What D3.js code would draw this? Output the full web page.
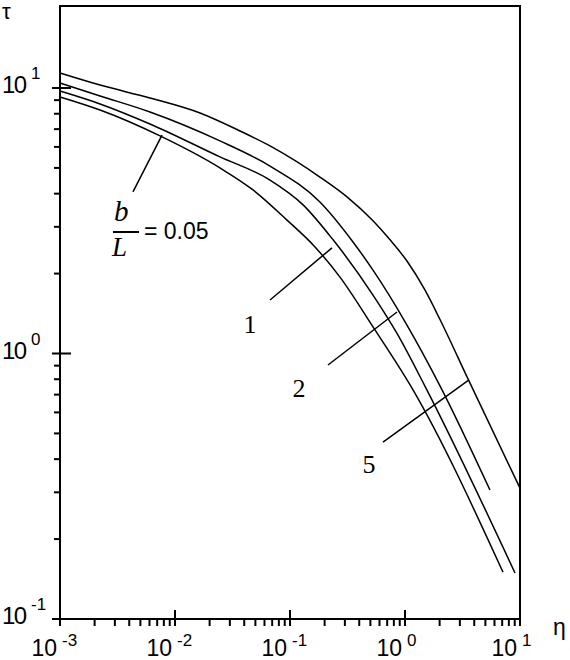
<!DOCTYPE html>
<html>
<head>
<meta charset="utf-8">
<script src="https://cdn.jsdelivr.net/npm/d3@7"></script>
<style>
    body { margin: 0; background: #fff; }
    text { fill: #000; }
</style>
</head>
<body>
<svg id="chart" width="570" height="660"></svg>
<script>
// data (eta, tau)
const eta_005 = [0.001, 0.00223, 0.00741, 0.0246, 0.0477, 0.0942, 0.165, 0.272, 0.527, 1.15, 7.12];
const tau_005 = [9.25, 8.26, 6.60, 5.00, 4.13, 3.18, 2.52, 1.94, 1.26, 0.741, 0.150];

const eta_1 = [0.001, 0.00223, 0.00606, 0.0246, 0.067, 0.13, 0.237, 0.527, 0.852, 1.49, 9.05];
const tau_1 = [9.74, 8.71, 7.32, 5.50, 4.50, 3.63, 2.68, 1.66, 1.19, 0.754, 0.149];

const eta_2 = [0.001, 0.00223, 0.00606, 0.0246, 0.067, 0.182, 0.353, 0.527, 1.04, 2.02, 5.48];
const tau_2 = [10.44, 9.33, 8.12, 6.32, 5.08, 3.72, 2.63, 2.06, 1.28, 0.754, 0.306];

const eta_5 = [0.001, 0.00223, 0.00606, 0.0165, 0.0367, 0.067, 0.182, 0.313, 0.527, 0.741, 1.04, 1.49, 2.02, 3.53, 10];
const tau_5 = [11.39, 10.26, 9.17, 8.05, 6.89, 6.05, 4.62, 3.89, 3.16, 2.68, 2.23, 1.735, 1.34, 0.802, 0.311];

const xMajor = [1e-3, 1e-2, 1e-1, 1, 10];
const xExp = ["-3", "-2", "-1", "0", "1"];
const yMajor = [0.1, 1, 10];
const yExp = ["-1", "0", "1"];

const curveNames = ["0.05", "1", "2", "5"];

// leader lines: [eta0, tau0, eta1, tau1]
const leaders = [
    [0.00431, 4.06, 0.00771, 6.65],
    [0.067, 1.59, 0.2318, 2.50],
    [0.214, 0.905, 0.852, 1.433],
    [0.644, 0.464, 3.60, 0.795]
];
// label anchor points (eta, tau) for "1", "2", "5"
const labelPos = [[0.0449, 1.195], [0.1197, 0.686], [0.486, 0.355]];

const svg = d3.select("#chart");
const x0 = 60, x1 = 520, y0 = 619, y1 = 6;

const x = d3.scaleLog().domain([1e-3, 10]).range([x0, x1]);
const y = d3.scaleLog().domain([0.1, Math.pow(10, 1 + 82 / 265.5)]).range([y0, y1]);

// frame
svg.append("rect")
    .attr("x", x0).attr("y", y1)
    .attr("width", x1 - x0).attr("height", y0 - y1)
    .attr("fill", "none").attr("stroke", "#000").attr("stroke-width", 2);

// minor ticks
let xMinor = [];
for (let d = -3; d < 1; d++) {
    for (let k = 2; k <= 9; k++) xMinor.push(k * Math.pow(10, d));
}
let yMinor = [];
for (let d = -1; d < 1; d++) {
    for (let k = 2; k <= 9; k++) yMinor.push(k * Math.pow(10, d));
}

svg.append("g").selectAll("line")
    .data(xMinor).enter().append("line")
    .attr("x1", d => x(d)).attr("x2", d => x(d))
    .attr("y1", y0).attr("y2", y0 + 7)
    .attr("stroke", "#000").attr("stroke-width", 2);

svg.append("g").selectAll("line")
    .data(xMajor).enter().append("line")
    .attr("x1", d => x(d)).attr("x2", d => x(d))
    .attr("y1", y0 - 9).attr("y2", y0 + 7)
    .attr("stroke", "#000").attr("stroke-width", 2);

svg.append("g").selectAll("line")
    .data(yMinor).enter().append("line")
    .attr("x1", x0 - 6).attr("x2", x0)
    .attr("y1", d => y(d)).attr("y2", d => y(d))
    .attr("stroke", "#000").attr("stroke-width", 2);

svg.append("g").selectAll("line")
    .data(yMajor).enter().append("line")
    .attr("x1", x0 - 8).attr("x2", x0 + 11)
    .attr("y1", d => y(d)).attr("y2", d => y(d))
    .attr("stroke", "#000").attr("stroke-width", 2);

// tick labels
const font = "'Liberation Sans', Arial, sans-serif";
const serif = "'Liberation Serif', 'Times New Roman', serif";

let xl = svg.append("g").selectAll("g")
    .data(xMajor).enter().append("g");
xl.append("text")
    .attr("x", d => x(d) - 3).attr("y", 656)
    .attr("text-anchor", "end")
    .style("font-family", font).style("font-size", "23px")
    .text("10");
xl.append("text")
    .attr("x", d => x(d) + 2).attr("y", 646)
    .style("font-family", font).style("font-size", "17px")
    .text((d, i) => xExp[i]);

let yl = svg.append("g").selectAll("g")
    .data(yMajor).enter().append("g");
yl.append("text")
    .attr("x", 2).attr("y", d => y(d) + 5)
    .attr("textLength", 25)
    .style("font-family", font).style("font-size", "24px")
    .text("10");
yl.append("text")
    .attr("x", 31).attr("y", d => y(d) - 9)
    .style("font-family", font).style("font-size", "17px")
    .text((d, i) => yExp[i]);

// axis names
svg.append("text")
    .attr("x", 2).attr("y", 19)
    .style("font-family", font).style("font-size", "22px")
    .text("τ");
svg.append("text")
    .attr("x", 553).attr("y", 635)
    .style("font-family", font).style("font-size", "23px")
    .text("η");

// curves
const series = [
    [eta_005, tau_005],
    [eta_1, tau_1],
    [eta_2, tau_2],
    [eta_5, tau_5]
];

const line = d3.line()
    .x(d => x(d[0]))
    .y(d => y(d[1]))
    .curve(d3.curveMonotoneX);

svg.append("g").selectAll("path")
    .data(series).enter().append("path")
    .attr("d", s => line(s[0].map((e, i) => [e, s[1][i]])))
    .attr("fill", "none")
    .attr("stroke", "#000")
    .attr("stroke-width", 1.5);

// leader lines
svg.append("g").selectAll("line")
    .data(leaders).enter().append("line")
    .attr("x1", d => x(d[0])).attr("y1", d => y(d[1]))
    .attr("x2", d => x(d[2])).attr("y2", d => y(d[3]))
    .attr("stroke", "#000").attr("stroke-width", 1.5);

// curve labels 1, 2, 5
svg.append("g").selectAll("text")
    .data(labelPos).enter().append("text")
    .attr("x", d => x(d[0])).attr("y", d => y(d[1]))
    .attr("text-anchor", "middle")
    .style("font-family", serif)
    .style("font-size", "26px")
    .text((d, i) => curveNames[i + 1]);

// b/L = 0.05
svg.append("text")
    .attr("x", 114).attr("y", 221)
    .style("font-family", serif).style("font-style", "italic").style("font-size", "29px")
    .text("b");
svg.append("line")
    .attr("x1", 113).attr("x2", 139)
    .attr("y1", 232).attr("y2", 232)
    .attr("stroke", "#000").attr("stroke-width", 2);
svg.append("text")
    .attr("x", 112).attr("y", 256)
    .style("font-family", serif).style("font-style", "italic").style("font-size", "27px")
    .text("L");
svg.append("text")
    .attr("x", 144).attr("y", 239)
    .style("font-family", font).style("font-size", "23px")
    .text("= " + curveNames[0]);
</script>
</body>
</html>
